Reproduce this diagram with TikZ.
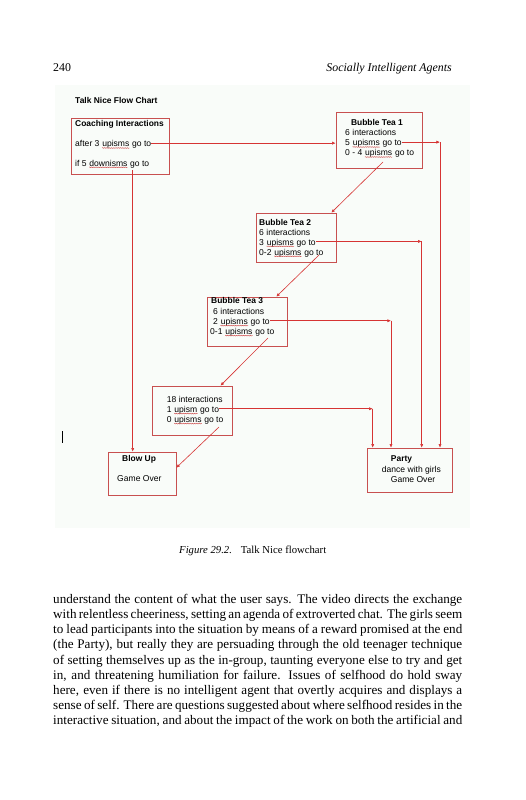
\documentclass[tikz,border=0pt]{standalone}
\usepackage{fontspec}
\setmainfont{Liberation Serif}
\newfontfamily\chartfont{Liberation Sans}
\usetikzlibrary{arrows.meta,fit,positioning,decorations.pathmorphing}

\definecolor{boxred}{RGB}{200,80,80}
\definecolor{linered}{RGB}{214,52,52}
\definecolor{chartbg}{RGB}{249,252,249}
\definecolor{wavered}{RGB}{205,70,70}

% red squiggle under the unknown words
\newcommand{\spellwave}[1]{\tikz[baseline=(word.base)]{\node[inner sep=0pt, anchor=base] (word) {#1};
	\draw[wavered, line width=0.3pt, decorate, decoration={snake, amplitude=0.35pt, segment length=1.5pt}] ([yshift=-1.1pt]word.base west) -- ([yshift=-1.1pt]word.base east);}}

\tikzset{
	flowbox/.style={draw=boxred, line width=0.5pt, inner sep=0pt},
	chart/.style={font=\chartfont\fontsize{7.2}{8}\selectfont, inner sep=0pt, anchor=base west, text height=7pt, text depth=1pt},
	charthead/.style={chart, font=\chartfont\bfseries\fontsize{7.1}{8}\selectfont},
	flowline/.style={draw=linered, line width=0.5pt, -{Latex[length=3pt,width=2.6pt]}},
	headtext/.style={font=\fontsize{10}{12}\selectfont, inner sep=0pt, anchor=base west},
	bodytext/.style={font=\fontsize{11.05}{13}\selectfont, inner sep=0pt, anchor=base west}
}

\begin{document}
\begin{tikzpicture}[x=0.842pt, y=-0.842pt]
	\useasboundingbox (0,0) rectangle (525,800);

	% Running head
	\node [headtext] (pagenum) at (53,71) {240};
	\node [headtext, anchor=base east] (runhead) at (452,71) {\textit{Socially Intelligent Agents}};

	% Figure background
	\fill [chartbg] (55,85) rectangle (470,528);
	\node [charthead] (charttitle) at (75,103) {Talk Nice Flow Chart};

	% Boxes
	\node [flowbox, fit={(71.7,118) (169,174)}] (coach) {};
	\node [flowbox, fit={(336,112) (422,168)}] (bt1) {};
	\node [flowbox, fit={(256,213) (336,262)}] (bt2) {};
	\node [flowbox, fit={(207,297) (287,346)}] (bt3) {};
	\node [flowbox, fit={(152,386) (232,435)}] (last) {};
	\node [flowbox, fit={(108,452) (176,495)}] (blow) {};
	\node [flowbox, fit={(367,448) (452,492)}] (party) {};

	% Box texts
	\node [charthead] (coachhead) at (75,126.7) {Coaching Interactions};
	\node [chart] (coachup) at (75,146.7) {after 3 \spellwave{upisms} go to};
	\node [chart] (coachdown) at (75,166) {if 5 \spellwave{downisms} go to};

	\node [charthead, anchor=base] (bt1head) at (377,125.7) {Bubble Tea 1};
	\node [chart] (bt1int) at (345,135.7) {6 interactions};
	\node [chart] (bt1up) at (345,145.7) {5 \spellwave{upisms} go to};
	\node [chart] (bt1low) at (345,155.7) {0 - 4 \spellwave{upisms} go to};

	\node [charthead] (bt2head) at (259,225) {Bubble Tea 2};
	\node [chart] (bt2int) at (259,235) {6 interactions};
	\node [chart] (bt2up) at (259,245) {3 \spellwave{upisms} go to};
	\node [chart] (bt2low) at (259,255) {0-2 \spellwave{upisms} go to};

	\node [charthead] (bt3head) at (211,303.3) {Bubble Tea 3};
	\node [chart] (bt3int) at (213,314.3) {6 interactions};
	\node [chart] (bt3up) at (213,324.3) {2 \spellwave{upisms} go to};
	\node [chart] (bt3low) at (210,334.3) {0-1 \spellwave{upisms} go to};

	\node [chart] (lastint) at (166.7,402.5) {18 interactions};
	\node [chart] (lastup) at (166.7,412.3) {1 \spellwave{upism} go to};
	\node [chart] (lastlow) at (166.7,422.3) {0 \spellwave{upisms} go to};

	\node [charthead] (blowhead) at (122,461.7) {Blow Up};
	\node [chart] (blowover) at (117,481.7) {Game Over};

	\node [charthead] (partyhead) at (390.7,461.7) {Party};
	\node [chart] (partydance) at (381.7,472.3) {dance with girls};
	\node [chart] (partyover) at (390.7,482) {Game Over};

	% Columns going down to the Party
	\coordinate (col1) at (440,0);
	\coordinate (col2) at (421.7,0);
	\coordinate (col3) at (391,0);
	\coordinate (col4) at (372.7,0);

	% Upism connectors
	\draw [flowline] (coachup.east) -- (coachup.east -| bt1.west);
	\draw [flowline] (bt1up.east) -- (bt1up.east -| col1);
	\draw [flowline] (bt1up.east -| col1) -- (col1 |- party.north);
	\draw [flowline] (bt2up.east) -- (bt2up.east -| col2);
	\draw [flowline] (bt2up.east -| col2) -- (col2 |- party.north);
	\draw [flowline] (bt3up.east) -- (bt3up.east -| col3);
	\draw [flowline] (bt3up.east -| col3) -- (col3 |- party.north);
	\draw [flowline] (lastup.east) -- (lastup.east -| col4);
	\draw [flowline] (lastup.east -| col4) -- (col4 |- party.north);

	% Downism and low-score connectors
	\coordinate (coachstart) at (132.7,170);
	\draw [flowline] (coachstart) -- (coachstart |- blow.north);
	\coordinate (bt1start) at (383,162);
	\draw [flowline] (bt1start) -- ([xshift=-4.2pt]bt2.north east);
	\coordinate (bt2start) at (319,255);
	\draw [flowline] (bt2start) -- ([xshift=-9.3pt]bt3.north east);
	\coordinate (bt3start) at (268,338);
	\draw [flowline] (bt3start) -- ([xshift=-10pt]last.north east);
	\coordinate (laststart) at (219,427);
	\draw [flowline] (laststart) -- ([yshift=-13.5pt]blow.north east);

	% Text cursor left in the figure
	\draw [line width=0.6pt] (62,431) -- (62,443);

	% Caption
	\node [bodytext, font=\fontsize{9}{11}\selectfont] (figlabel) at (179,553) {\textit{Figure 29.2.}};
	\node [bodytext, font=\fontsize{9}{11}\selectfont] (figtitle) at (240.7,553) {Talk Nice flowchart};

	% Body text, one justified line each
	\node [bodytext] (line1) at (53,603.3) {\makebox[344.4pt][s]{understand the content of what the user says. The video directs the exchange}};
	\node [bodytext] (line2) at (53,618.5) {\makebox[344.4pt][s]{with relentless cheeriness, setting an agenda of extroverted chat. The girls seem}};
	\node [bodytext] (line3) at (53,633.7) {\makebox[344.4pt][s]{to lead participants into the situation by means of a reward promised at the end}};
	\node [bodytext] (line4) at (53,648.9) {\makebox[344.4pt][s]{(the Party), but really they are persuading through the old teenager technique}};
	\node [bodytext] (line5) at (53,664.1) {\makebox[344.4pt][s]{of setting themselves up as the in-group, taunting everyone else to try and get}};
	\node [bodytext] (line6) at (53,679.3) {\makebox[344.4pt][s]{in, and threatening humiliation for failure. Issues of selfhood do hold sway}};
	\node [bodytext] (line7) at (53,694.5) {\makebox[344.4pt][s]{here, even if there is no intelligent agent that overtly acquires and displays a}};
	\node [bodytext] (line8) at (53,709.7) {\makebox[344.4pt][s]{sense of self. There are questions suggested about where selfhood resides in the}};
	\node [bodytext] (line9) at (53,724.9) {\makebox[344.4pt][s]{interactive situation, and about the impact of the work on both the artificial and}};
\end{tikzpicture}
\end{document}
